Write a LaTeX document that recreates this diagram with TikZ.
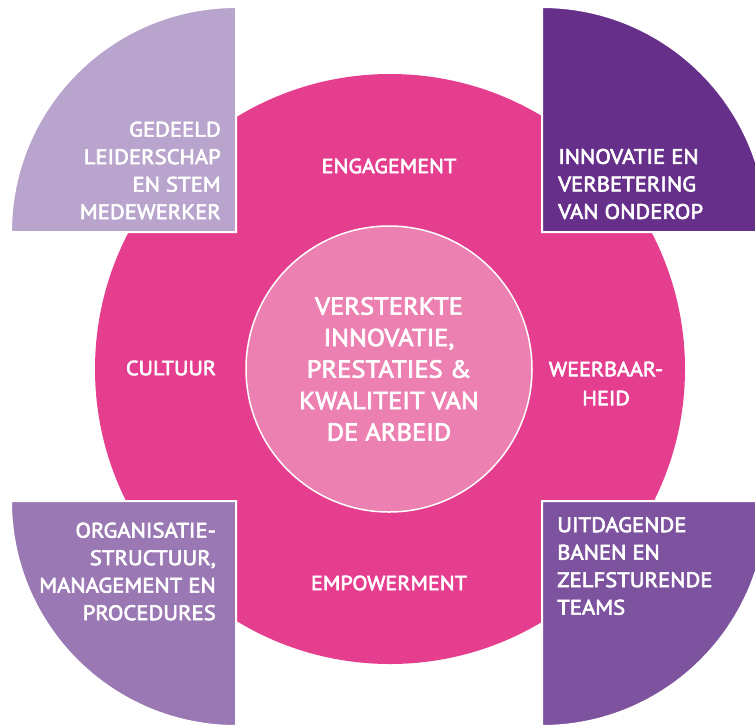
\documentclass[tikz,border=0pt]{standalone}
\usepackage{fontspec}
\setmainfont{PT Sans}[FakeBold=3, FakeStretch=1.08]
\definecolor{ringpink}{HTML}{E53E8F}
\definecolor{corepink}{HTML}{EC80B0}
\definecolor{lavTL}{HTML}{B8A4CC}
\definecolor{purTR}{HTML}{652F8A}
\definecolor{purBL}{HTML}{9A78B4}
\definecolor{purBR}{HTML}{7D529F}
\tikzset{
  quarter/.style={draw=white, line width=2pt},
  lbl/.style={text=white, inner sep=0pt, font=\fontsize{20.5}{29}\selectfont},
  cornerlbl/.style={text=white, inner sep=0pt, font=\fontsize{21}{27.5}\selectfont},
  corelbl/.style={text=white, inner sep=0pt, align=center, font=\fontsize{24.5}{31.5}\selectfont},
}
\begin{document}
\begin{tikzpicture}[x=1pt,y=1pt]
\useasboundingbox (0,0) rectangle (755,-724);
% ring
\fill[ringpink] (390,-369) circle[radius=295];
% quarters
\filldraw[quarter, fill=lavTL] (236,-232) -- (11,-232) arc[start angle=180, end angle=90, radius=225] -- cycle;
\filldraw[quarter, fill=purTR] (542,-232) -- (542,-7) arc[start angle=90, end angle=0, radius=225] -- cycle;
\filldraw[quarter, fill=purBL] (236,-501) -- (11,-501) arc[start angle=180, end angle=270, radius=225] -- cycle;
\filldraw[quarter, fill=purBR] (542,-501) -- (542,-726) arc[start angle=270, end angle=360, radius=225] -- cycle;
% core
\node[circle, draw=white, line width=1.5pt, fill=corepink, minimum size=286pt, inner sep=0pt] (core) at (389,-369) {};
\node[corelbl] (coretext) at (389,-369) {VERSTERKTE\\INNOVATIE,\\PRESTATIES \&\\KWALITEIT VAN\\DE ARBEID};
% ring labels
\node[lbl] (eng) at (389,-166) {ENGAGEMENT};
\node[lbl] (cult) at (171,-368) {CULTUUR};
\node[lbl, align=center] (weer) at (606,-383.5) {WEERBAAR-\\HEID};
\node[lbl] (emp) at (389,-583) {EMPOWERMENT};
% corner labels
\node[cornerlbl, align=right, anchor=east] (tl) at (221,-170.5) {GEDEELD\\LEIDERSCHAP\\EN STEM\\MEDEWERKER};
\node[cornerlbl, align=left, anchor=west] (tr) at (558,-184) {INNOVATIE EN\\VERBETERING\\VAN ONDEROP};
\node[cornerlbl, align=right, anchor=east] (bl) at (216,-571.5) {ORGANISATIE-\\STRUCTUUR,\\MANAGEMENT EN\\PROCEDURES};
\node[cornerlbl, align=left, anchor=west] (br) at (557,-566) {UITDAGENDE\\BANEN EN\\ZELFSTURENDE\\TEAMS};
\end{tikzpicture}
\end{document}
